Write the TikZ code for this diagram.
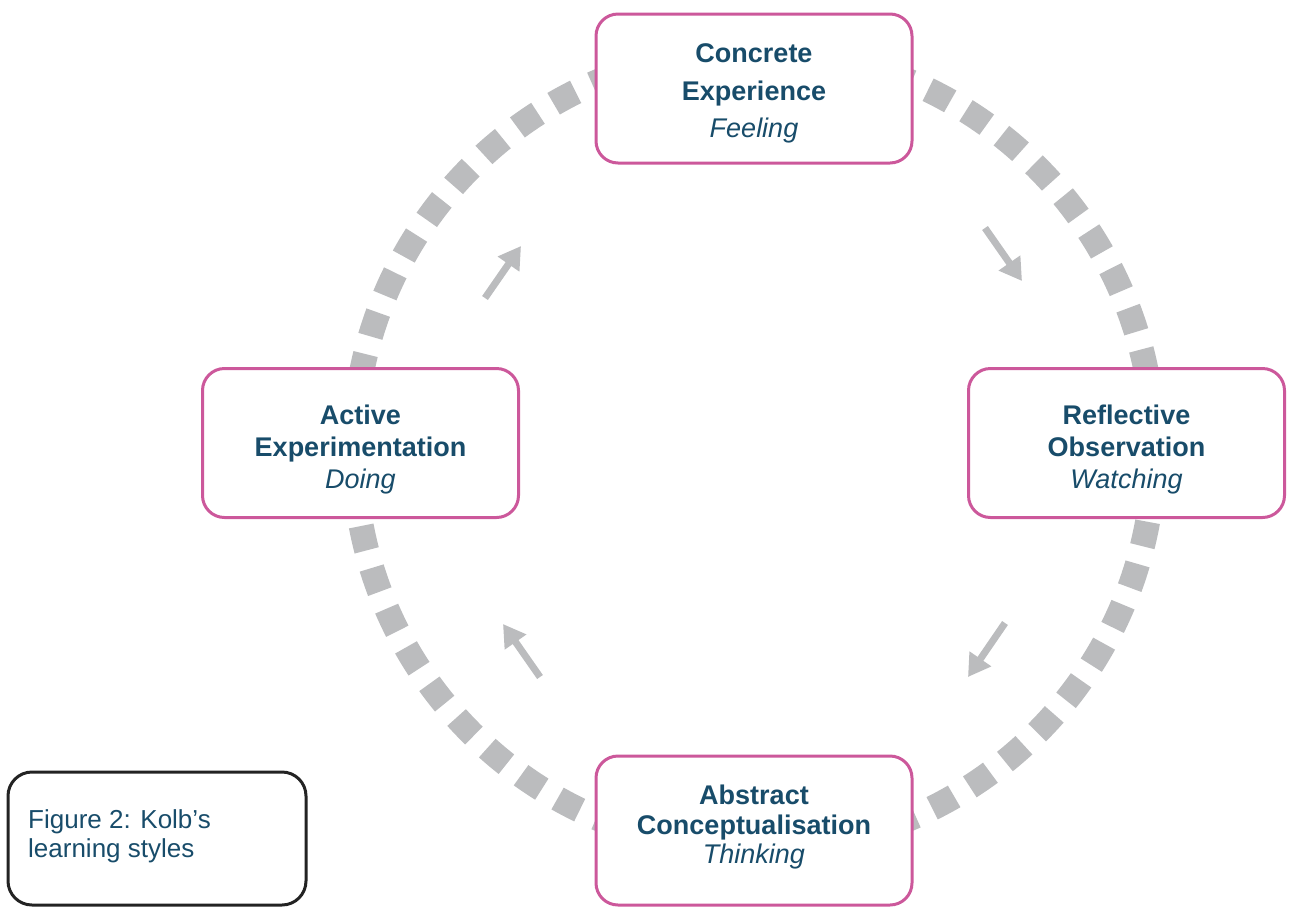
\documentclass[tikz,border=0pt]{standalone}
\usepackage{fontspec}
\setmainfont{Liberation Sans}
\usetikzlibrary{arrows.meta}
\definecolor{kpink}{RGB}{204,88,155}
\definecolor{kteal}{RGB}{24,76,106}
\definecolor{kgray}{RGB}{187,188,190}
\definecolor{kblack}{RGB}{35,35,35}
\tikzset{
  stagebox/.style={draw=kpink, line width=3pt, fill=white, rounded corners=22pt,
    minimum width=316pt, minimum height=149pt, inner sep=0pt},
  stagetext/.style={text=kteal, align=center, inner sep=0pt},
  flowarrow/.style={draw=kgray, line width=7pt, -{Triangle[width=25pt,length=22pt]}},
  cyclering/.style={draw=kgray, line width=25pt, dash pattern=on 25pt off 18.33pt}
}
\begin{document}
\begin{tikzpicture}[x=1pt,y=-1pt]
\useasboundingbox (0,0) rectangle (1291,906);
% dashed cycle
\coordinate (ctr) at (754,450);
\draw[cyclering, dash phase=10pt] (ctr) circle[radius=400pt];
% stage boxes
\node[stagebox] (ce) at (754,88.5) {};
\node[stagebox] (ro) at (1126.5,443) {};
\node[stagebox] (ac) at (754,830.5) {};
\node[stagebox] (ae) at (360.5,443) {};
% texts
\node[stagetext, font=\fontsize{27}{37.5}\selectfont] (cet) at ([yshift=-5pt]ce.center)
  {\textbf{Concrete}\\\textbf{Experience}\\\textit{Feeling}};
\node[stagetext, font=\fontsize{27}{32}\selectfont] (rot) at ([yshift=-7pt]ro.center)
  {\textbf{Reflective}\\\textbf{Observation}\\\textit{Watching}};
\node[stagetext, font=\fontsize{27}{29.5}\selectfont] (act) at ([yshift=3pt]ac.center)
  {\textbf{Abstract}\\\textbf{Conceptualisation}\\\textit{Thinking}};
\node[stagetext, font=\fontsize{27}{32}\selectfont] (aet) at ([yshift=-7pt]ae.center)
  {\textbf{Active}\\\textbf{Experimentation}\\\textit{Doing}};
% arrows
\coordinate (a1s) at (985,228); \coordinate (a1e) at (1022,281);
\coordinate (a2s) at (1005,623); \coordinate (a2e) at (968,677);
\coordinate (a3s) at (540,677); \coordinate (a3e) at (503,624);
\coordinate (a4s) at (485,298); \coordinate (a4e) at (521,246);
\draw[flowarrow] (a1s) -- (a1e);
\draw[flowarrow] (a2s) -- (a2e);
\draw[flowarrow] (a3s) -- (a3e);
\draw[flowarrow] (a4s) -- (a4e);
% caption box
\draw[kblack, line width=3pt, rounded corners=24pt] (8,772) rectangle (306,905);
\node[text=kteal, align=left, anchor=base west, inner sep=0pt,
  font=\fontsize{26}{29}\selectfont] (cap) at (28,828) {Figure 2: Kolb’s};
\node[text=kteal, align=left, anchor=base west, inner sep=0pt,
  font=\fontsize{26}{29}\selectfont] (cap2) at (28,857) {learning styles};
\end{tikzpicture}
\end{document}
